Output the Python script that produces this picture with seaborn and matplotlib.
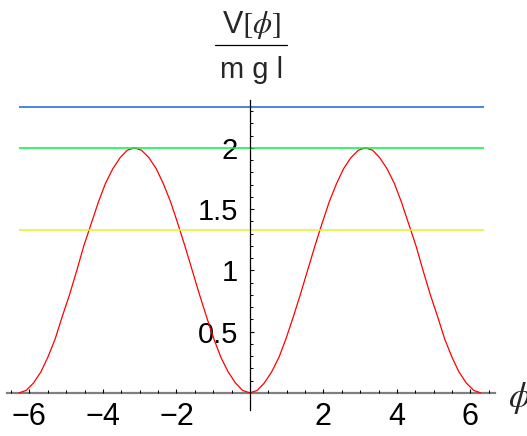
import matplotlib
matplotlib.use("Agg")
import matplotlib.pyplot as plt
from matplotlib.lines import Line2D
from matplotlib.ticker import FixedLocator
import seaborn as sns

# Curve V[phi]/(m g l) (-2pi .. 2pi)
phi = [-6.28, -6.09, -5.89, -5.69, -5.50, -5.30, -5.11, -4.91, -4.71, -4.52,
       -4.32, -4.12, -3.93, -3.73, -3.53, -3.34, -3.14, -2.95, -2.75, -2.55,
       -2.36, -2.16, -1.96, -1.77, -1.57, -1.37, -1.18, -0.98, -0.79, -0.59,
       -0.39, -0.20, 0.00, 0.20, 0.39, 0.59, 0.79, 0.98, 1.18, 1.37,
       1.57, 1.77, 1.96, 2.16, 2.36, 2.55, 2.75, 2.95, 3.14, 3.34,
       3.53, 3.73, 3.93, 4.12, 4.32, 4.52, 4.71, 4.91, 5.11, 5.30,
       5.50, 5.69, 5.89, 6.09, 6.28]
potential = [0.00, 0.02, 0.08, 0.17, 0.29, 0.44, 0.62, 0.80, 1.00, 1.20,
             1.38, 1.56, 1.71, 1.83, 1.92, 1.98, 2.00, 1.98, 1.92, 1.83,
             1.71, 1.56, 1.38, 1.20, 1.00, 0.80, 0.62, 0.44, 0.29, 0.17,
             0.08, 0.02, 0.00, 0.02, 0.08, 0.17, 0.29, 0.44, 0.62, 0.80,
             1.00, 1.20, 1.38, 1.56, 1.71, 1.83, 1.92, 1.98, 2.00, 1.98,
             1.92, 1.83, 1.71, 1.56, 1.38, 1.20, 1.00, 0.80, 0.62, 0.44,
             0.29, 0.17, 0.08, 0.02, 0.00]

# Energy levels
energy_levels = [2.33, 2.00, 1.33]
level_colours = ['#1a5fe3', '#00f545', '#e0f222']

x_ticks = [-6, -4, -2, 2, 4, 6]
x_tick_labels = ['\u22126', '\u22124', '\u22122', '2', '4', '6']
x_minor = [-6.5, -5.5, -5, -4.5, -3.5, -3, -2.5, -1.5, -1, -0.5,
           0.5, 1, 1.5, 2.5, 3, 3.5, 4.5, 5, 5.5, 6.5]
y_ticks = [0.5, 1, 1.5, 2]
y_tick_labels = ['0.5', '1', '1.5', '2']
y_minor = [0.1, 0.2, 0.3, 0.4, 0.6, 0.7, 0.8, 0.9, 1.1, 1.2, 1.3, 1.4,
           1.6, 1.7, 1.8, 1.9, 2.1, 2.2, 2.3]

sns.set_style('white')
plt.rcParams['font.family'] = ['Liberation Sans', 'DejaVu Sans']
plt.rcParams['mathtext.fontset'] = 'stix'
plt.rcParams['axes.unicode_minus'] = True

fig = plt.figure(figsize=(5.27, 4.36), dpi=100)
ax = fig.add_axes([0.0133, 0.0596, 0.926, 0.711])

sns.lineplot(x=phi, y=potential, ax=ax, color='#ff0000', linewidth=0.9,
             sort=False, estimator=None)
for level, c in zip(energy_levels, level_colours):
    ax.hlines(level, -6.28, 6.37, colors=c, linewidth=1.1)

ax.set_xlim(-6.61, 6.67)
ax.set_ylim(-0.14, 2.39)

for s in ['top', 'right']:
    ax.spines[s].set_visible(False)
ax.spines['left'].set_position(('data', 0))
ax.spines['bottom'].set_position(('data', 0))
ax.spines['left'].set_color('black')
ax.spines['left'].set_linewidth(0.9)
ax.spines['bottom'].set_color('#808080')
ax.spines['bottom'].set_linewidth(1.6)
ax.spines['bottom'].set_zorder(0)

ax.xaxis.set_major_locator(FixedLocator(x_ticks))
ax.set_xticklabels(x_tick_labels)
ax.xaxis.set_minor_locator(FixedLocator(x_minor))
ax.yaxis.set_major_locator(FixedLocator(y_ticks))
ax.set_yticklabels(y_tick_labels)
ax.yaxis.set_minor_locator(FixedLocator(y_minor))

ax.tick_params(axis='both', which='both', direction='in', color='black',
               bottom=True, left=True, labelcolor='black')
ax.tick_params(axis='both', which='major', length=3.2, width=0.8)
ax.tick_params(axis='both', which='minor', length=2, width=0.7)
ax.tick_params(axis='x', which='major', pad=6.5, labelsize=22)
ax.tick_params(axis='y', which='major', pad=8.5, labelsize=21)
ax.grid(False)

# Axis labels drawn as a fraction above the y axis
fig.text(0.478, 0.924, r'V$[\phi]$', ha='center', va='baseline', fontsize=22)
fig.text(0.478, 0.821, 'm g l', ha='center', va='baseline', fontsize=21)
fig.add_artist(Line2D([0.408, 0.545], [0.897, 0.897], color='black',
                      linewidth=0.9, transform=fig.transFigure))
fig.text(0.986, 0.087, r'$\phi$', ha='center', va='center', fontsize=25)

fig.savefig('out.png', dpi=100)
